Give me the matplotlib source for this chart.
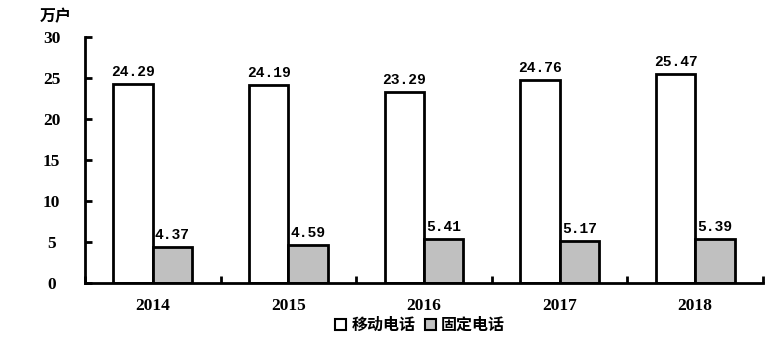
import numpy as np
import matplotlib.pyplot as plt
from matplotlib.patches import Patch

years = ['2014', '2015', '2016', '2017', '2018']
mobile = [24.29, 24.19, 23.29, 24.76, 25.47]
fixed = [4.37, 4.59, 5.41, 5.17, 5.39]
series_names = ['移动电话', '固定电话']
yticks = [0, 5, 10, 15, 20, 25, 30]

plt.rcParams['font.family'] = ['Liberation Serif', 'Noto Sans CJK SC']
plt.rcParams['font.weight'] = 'bold'

fig = plt.figure(figsize=(7.76, 3.48), dpi=100)
ax = fig.add_axes([85 / 776, 1 - 283 / 348, 678 / 776, 246 / 348])

x = np.arange(len(years))
w = 0.29
ax.bar(x - w / 2, mobile, w, color='white', edgecolor='black', linewidth=2)
ax.bar(x + w / 2, fixed, w, color='#c0c0c0', edgecolor='black', linewidth=2)

for xi, v in zip(x - w / 2, mobile):
    ax.text(xi, v + 0.6, f'{v:.2f}', ha='center', va='bottom', fontsize=10.5,
            family='Liberation Mono', fontweight='bold')
for xi, v in zip(x + w / 2, fixed):
    ax.text(xi, v + 0.6, f'{v:.2f}', ha='center', va='bottom', fontsize=10.5,
            family='Liberation Mono', fontweight='bold')

ax.set_xlim(-0.5, len(years) - 0.5)
ax.set_ylim(0, 30)
ax.set_yticks(yticks)
ax.set_xticks(x)
ax.set_xticklabels(years, fontsize=12.5)
ax.tick_params(axis='x', length=0, pad=11)
ax.set_xticks(np.arange(len(years) + 1) - 0.5, minor=True)
ax.tick_params(axis='x', which='minor', direction='in', length=5, width=2)
ax.tick_params(axis='y', direction='in', length=5, width=2, labelsize=12.5, pad=24)
for t in ax.get_yticklabels():
    t.set_horizontalalignment('center')

for s in ['top', 'right']:
    ax.spines[s].set_visible(False)
for s in ['left', 'bottom']:
    ax.spines[s].set_linewidth(2)

fig.text(56 / 776, 1 - 16 / 348, '万户', ha='center', va='center', fontsize=11.5,
         family=['Noto Sans CJK SC'], fontweight='bold')

handles = [Patch(facecolor='white', edgecolor='black', linewidth=1.5),
           Patch(facecolor='#c0c0c0', edgecolor='black', linewidth=1.5)]
fig.legend(handles, series_names, loc='center', bbox_to_anchor=(420 / 776, 1 - 325 / 348),
           ncol=2, frameon=False, handlelength=0.7, handleheight=0.7, handletextpad=0.3,
           columnspacing=0.6, prop={'family': ['Noto Sans CJK SC'], 'weight': 'bold', 'size': 11.5})

fig.savefig('out.png', dpi=100)
